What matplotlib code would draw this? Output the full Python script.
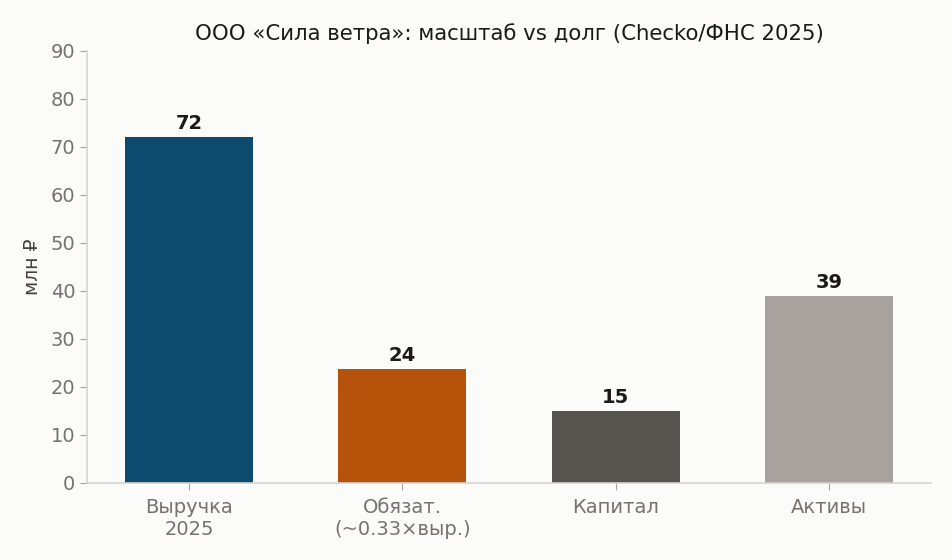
import matplotlib
matplotlib.use("Agg")
import matplotlib.pyplot as plt

categories = ["Выручка\n2025", "Обязат.\n(~0.33×выр.)", "Капитал", "Активы"]
values = [72, 23.76, 15, 39]
value_labels = ["72", "24", "15", "39"]
colors = ["#0c4a6e", "#b45309", "#57534e", "#a8a29e"]

BG = "#fbfbf9"
TICK = "#78716c"

fig = plt.figure(figsize=(9.52, 5.6), dpi=100, facecolor=BG)
ax = fig.add_axes([87 / 952, 1 - 483 / 560, (931 - 87) / 952, (483 - 51) / 560])
ax.set_facecolor(BG)

x = range(len(categories))
bars = ax.bar(x, values, width=0.6, color=colors, zorder=2)
for b, lab in zip(bars, value_labels):
    ax.annotate(lab, (b.get_x() + b.get_width() / 2, b.get_height()),
                xytext=(0, 3), textcoords="offset points", ha="center", va="bottom",
                fontsize=14, fontweight="bold", color="#1c1917")

ax.set_ylim(0, 90)
ax.set_yticks(range(0, 91, 10))
ax.set_xticks(list(x))
ax.set_xticklabels(categories)
ax.tick_params(axis="both", colors="#a8a29e", labelcolor=TICK, labelsize=14, length=5)
ax.tick_params(axis="x", pad=5.5)
ax.set_ylabel("млн ₽", fontsize=13.5, color="#44403c", labelpad=6)
ax.set_title("ООО «Сила ветра»: масштаб vs долг (Checko/ФНС 2025)",
             fontsize=15.3, color="#1c1917", pad=8)

for s in ("top", "right"):
    ax.spines[s].set_visible(False)
for s in ("left", "bottom"):
    ax.spines[s].set_color("#d6d3d1")
    ax.spines[s].set_linewidth(1.2)

fig.savefig("out.png", dpi=100, facecolor=BG)
